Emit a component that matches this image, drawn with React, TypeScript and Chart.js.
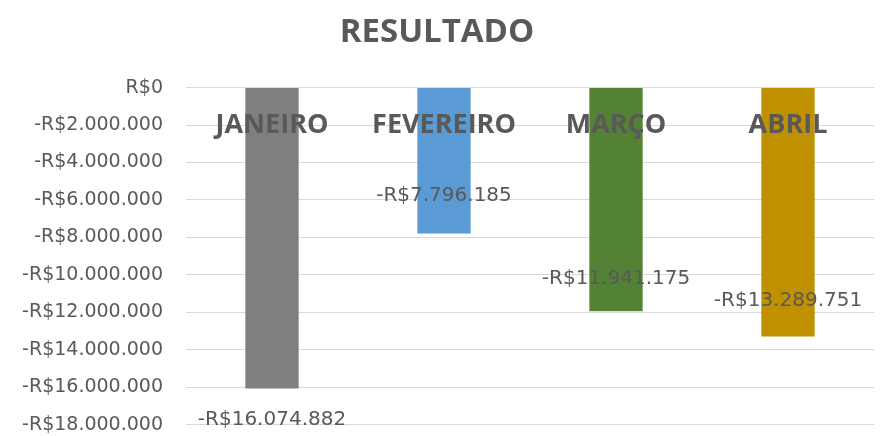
import React, { useEffect, useRef } from "react";
import { Chart, registerables } from "chart.js";

Chart.register(...registerables);

const TITLE = "RESULTADO";
const MONTHS = ["JANEIRO", "FEVEREIRO", "MARÇO", "ABRIL"];
const RESULTS = [-16074882, -7796185, -11941175, -13289751];
const BAR_COLORS = ["#7f7f7f", "#5b9bd5", "#548235", "#bf9000"];
const Y_MIN = -18000000;
const Y_MAX = 0;
const Y_STEP = 2000000;

const TEXT_COLOR = "#595959";
// vertical offset (px) of each value label relative to its bar end
const VALUE_LABEL_OFFSETS = [31, -38, -32, -36];

function fmtBRL(v: number): string {
  const abs = Math.round(Math.abs(v));
  const s = String(abs).replace(/\B(?=(\d{3})+(?!\d))/g, ".");
  return (v < 0 ? "-" : "") + "R$" + s;
}

const labelsPlugin = {
  id: "excelLabels",
  afterDatasetsDraw(chart: any) {
    const { ctx } = chart;
    const xs = chart.scales.x;
    const ys = chart.scales.y;
    const zeroY = ys.getPixelForValue(0);
    ctx.save();
    ctx.textAlign = "center";
    ctx.textBaseline = "middle";
    ctx.fillStyle = TEXT_COLOR;
    ctx.font = "bold 27px 'Open Sans'";
    MONTHS.forEach((m, i) => {
      ctx.fillText(m, xs.getPixelForValue(i), zeroY + 38);
    });
    ctx.font = "20px 'DejaVu Sans'";
    const meta = chart.getDatasetMeta(0);
    meta.data.forEach((bar: any, i: number) => {
      const v = RESULTS[i];
      ctx.fillText(fmtBRL(v), bar.x, ys.getPixelForValue(v) + VALUE_LABEL_OFFSETS[i]);
    });
    ctx.restore();
  },
};

export default function App() {
  const ref = useRef<HTMLCanvasElement | null>(null);
  useEffect(() => {
    if (!ref.current) return;
    const chart = new Chart(ref.current, {
      type: "bar",
      data: {
        labels: MONTHS,
        datasets: [
          {
            data: RESULTS,
            backgroundColor: BAR_COLORS,
            borderWidth: 0,
            categoryPercentage: 1,
            barPercentage: 0.31,
          },
        ],
      },
      options: {
        animation: false,
        responsive: false,
        maintainAspectRatio: false,
        layout: { padding: { top: 0, right: 18, bottom: 11, left: 0 } },
        plugins: {
          legend: { display: false },
          tooltip: { enabled: false },
          title: {
            display: true,
            text: TITLE,
            color: TEXT_COLOR,
            font: { family: "'Open Sans'", size: 33, weight: "bold" },
            padding: { top: 13, bottom: 35 },
          },
        },
        scales: {
          x: {
            display: false,
            offset: true,
          },
          y: {
            min: Y_MIN,
            max: Y_MAX,
            border: { display: false },
            grid: {
              color: "#d9d9d9",
              lineWidth: 1,
              drawTicks: true,
              tickLength: 23,
              tickColor: "rgba(0,0,0,0)",
            },
            afterFit(scale: any) {
              scale.width = 186;
            },
            ticks: {
              stepSize: Y_STEP,
              padding: 0,
              color: TEXT_COLOR,
              font: { family: "'DejaVu Sans'", size: 19 },
              callback: (v: any) => fmtBRL(Number(v)),
            },
          },
        },
      },
      plugins: [labelsPlugin],
    });
    return () => chart.destroy();
  }, []);
  return (
    <div style={{ position: "fixed", left: 0, top: 0, width: 892, height: 436, background: "#fff" }}>
      <canvas ref={ref} width={892} height={436} />
    </div>
  );
}
